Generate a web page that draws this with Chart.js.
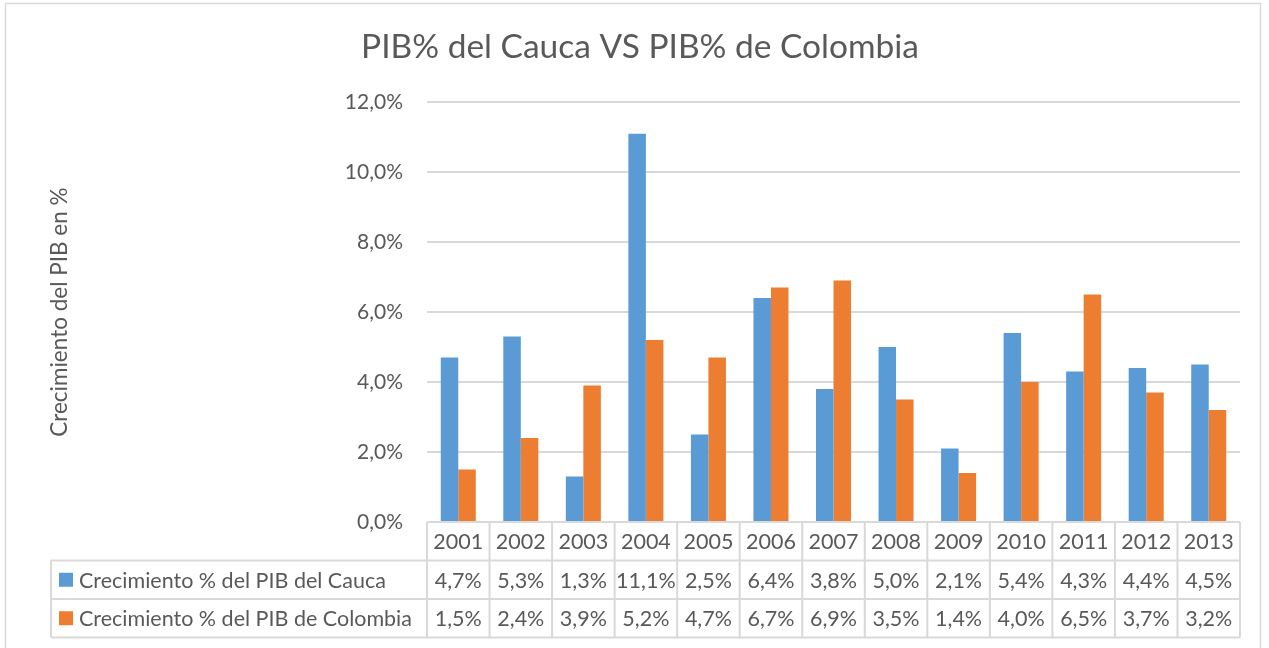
<!DOCTYPE html>
<html>
<head>
<meta charset="utf-8">
<script src="https://cdn.jsdelivr.net/npm/chart.js@4"></script>
<style>
  html, body { margin: 0; padding: 0; background: #fff; }
  #wrap { width: 1269px; height: 648px; position: relative; }
</style>
</head>
<body>
<div id="wrap"><canvas id="myChart"></canvas></div>
<script>
const years = ['2001','2002','2003','2004','2005','2006','2007','2008','2009','2010','2011','2012','2013'];
const cauca = [4.7, 5.3, 1.3, 11.1, 2.5, 6.4, 3.8, 5.0, 2.1, 5.4, 4.3, 4.4, 4.5];
const colombia = [1.5, 2.4, 3.9, 5.2, 4.7, 6.7, 6.9, 3.5, 1.4, 4.0, 6.5, 3.7, 3.2];
const seriesNames = ['Crecimiento % del PIB del Cauca', 'Crecimiento % del PIB de Colombia'];
const yTicks = [0, 2, 4, 6, 8, 10, 12];

const FONT = 'Lato';
const TXT = '#595959';
const LINE = '#D9D9D9';
const colors = ['#5B9BD5', '#ED7D31'];

const pct = v => v.toFixed(1).replace('.', ',') + '%';

// data table under the plot, columns follow the x scale
const tablePlugin = {
  id: 'dataTable',
  beforeDraw(chart) {
    const c = chart.ctx;
    c.save();
    c.strokeStyle = LINE;
    c.lineWidth = 1.5;
    c.strokeRect(5.5, 3.5, 1255, 700);
    c.restore();
  },
  afterDraw(chart) {
    const c = chart.ctx;
    const x = chart.scales.x;
    const n = years.length;
    const w = (x.right - x.left) / n;
    const top = chart.chartArea.bottom;
    const rowH = 38.5;
    const labelLeft = 51;
    const rows = [cauca, colombia];

    c.save();
    c.strokeStyle = LINE;
    c.lineWidth = 2;
    c.beginPath();
    // horizontal lines
    c.moveTo(x.left, top); c.lineTo(x.right, top);
    for (let r = 1; r <= 3; r++) {
      c.moveTo(labelLeft, top + r * rowH); c.lineTo(x.right, top + r * rowH);
    }
    // vertical lines
    for (let i = 0; i <= n; i++) {
      const bx = x.left + i * w;
      c.moveTo(bx, top); c.lineTo(bx, top + 3 * rowH);
    }
    c.moveTo(labelLeft, top + rowH); c.lineTo(labelLeft, top + 3 * rowH);
    c.stroke();

    c.fillStyle = TXT;
    c.font = '21.5px ' + FONT;
    c.textAlign = 'center';
    c.textBaseline = 'middle';
    years.forEach((yr, i) => {
      const cx = x.getPixelForValue(i);
      c.fillText(yr, cx, top + rowH / 2 + 1);
      rows.forEach((vals, r) => {
        c.fillText(pct(vals[i]), cx, top + (r + 1.5) * rowH + 1);
      });
    });

    c.textAlign = 'left';
    seriesNames.forEach((name, r) => {
      const cy = top + (r + 1.5) * rowH;
      c.fillStyle = colors[r];
      c.fillRect(59, cy - 7, 14, 14);
      c.fillStyle = TXT;
      c.fillText(name, 79, cy + 1);
    });
    c.restore();
  }
};

new Chart(document.getElementById('myChart'), {
  type: 'bar',
  data: {
    labels: years,
    datasets: [
      { label: seriesNames[0], data: cauca, backgroundColor: colors[0], borderWidth: 0 },
      { label: seriesNames[1], data: colombia, backgroundColor: colors[1], borderWidth: 0 }
    ]
  },
  options: {
    responsive: true,
    maintainAspectRatio: false,
    animation: false,
    datasets: { bar: { categoryPercentage: 0.56, barPercentage: 1 } },
    layout: { padding: { left: 40, right: 29, top: 0, bottom: 126 } },
    plugins: {
      legend: { display: false },
      tooltip: { enabled: false },
      title: {
        display: true,
        text: 'PIB% del Cauca VS PIB% de Colombia',
        color: TXT,
        font: { family: FONT, size: 33.5, weight: 'normal' },
        padding: { top: 27, bottom: 35 }
      }
    },
    scales: {
      x: { display: false },
      y: {
        min: 0,
        max: 12,
        afterBuildTicks: s => { s.ticks = yTicks.map(v => ({ value: v })); },
        afterFit: s => { s.width = 387; },
        border: { display: false },
        grid: { color: LINE, lineWidth: 2, drawTicks: false },
        ticks: {
          color: TXT,
          font: { family: FONT, size: 21 },
          padding: 24,
          callback: v => pct(v)
        },
        title: {
          display: true,
          text: 'Crecimiento del PIB en %',
          color: TXT,
          font: { family: FONT, size: 22.5 },
          padding: { top: 6, bottom: 0 }
        }
      }
    }
  },
  plugins: [tablePlugin]
});
</script>
</body>
</html>
